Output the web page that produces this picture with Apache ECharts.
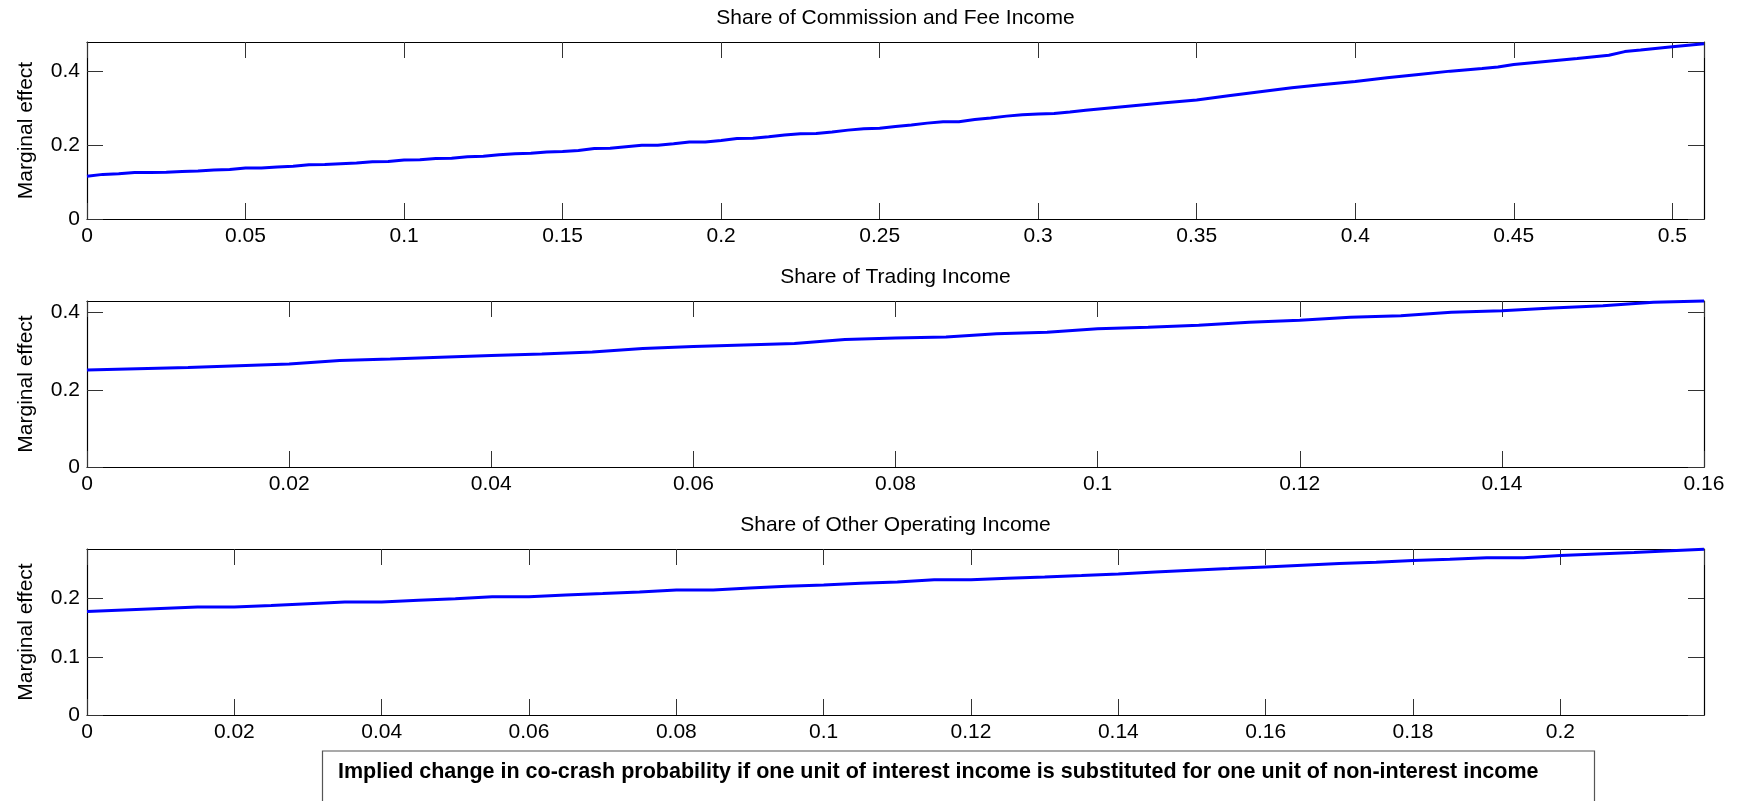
<!DOCTYPE html>
<html>
<head>
<meta charset="utf-8">
<script src="https://cdn.jsdelivr.net/npm/echarts@6/dist/echarts.min.js"></script>
<style>
html,body{margin:0;padding:0;background:#fff;}
#chart{width:1739px;height:801px;}
</style>
</head>
<body>
<div id="chart"></div>
<script>
// ---- Data ----
var titles = ['Share of Commission and Fee Income', 'Share of Trading Income', 'Share of Other Operating Income'];
var yName = 'Marginal effect';
var noteText = 'Implied change in co-crash probability if one unit of interest income is substituted for one unit of non-interest income';

var commX = [0,0.005,0.01,0.015,0.02,0.025,0.03,0.035,0.04,0.045,0.05,0.055,0.06,0.065,0.07,0.075,0.08,0.085,0.09,0.095,
  0.1,0.105,0.11,0.115,0.12,0.125,0.13,0.135,0.14,0.145,0.15,0.155,0.16,0.165,0.17,0.175,0.18,0.185,0.19,0.195,
  0.2,0.205,0.21,0.215,0.22,0.225,0.23,0.235,0.24,0.245,0.25,0.255,0.26,0.265,0.27,0.275,0.28,0.285,0.29,0.295,
  0.3,0.305,0.31,0.315,0.32,0.325,0.33,0.335,0.34,0.35,0.36,0.37,0.38,0.39,0.4,0.41,0.42,0.43,0.44,0.445,
  0.45,0.46,0.47,0.48,0.485,0.49,0.5,0.51];
var commY = [0.116,0.121,0.123,0.126,0.126,0.127,0.129,0.130,0.133,0.134,0.138,0.138,0.141,0.143,0.147,0.148,0.150,0.152,0.155,0.156,
  0.160,0.161,0.164,0.165,0.169,0.170,0.174,0.177,0.178,0.182,0.183,0.186,0.191,0.192,0.196,0.200,0.200,0.204,0.209,0.209,
  0.213,0.218,0.219,0.223,0.228,0.231,0.232,0.236,0.241,0.245,0.246,0.251,0.255,0.260,0.264,0.264,0.270,0.274,0.279,0.283,
  0.285,0.286,0.290,0.295,0.299,0.303,0.307,0.311,0.315,0.323,0.334,0.345,0.356,0.365,0.373,0.383,0.392,0.401,0.408,0.412,
  0.419,0.427,0.435,0.444,0.454,0.458,0.467,0.475];

var tradX = [0,0.01,0.02,0.025,0.03,0.04,0.045,0.05,0.055,0.06,0.065,0.07,0.075,0.08,0.085,0.09,0.095,
  0.1,0.105,0.11,0.115,0.12,0.125,0.13,0.135,0.14,0.145,0.15,0.155,0.16];
var tradY = [0.251,0.258,0.267,0.276,0.280,0.289,0.293,0.298,0.307,0.312,0.316,0.320,0.330,0.334,0.337,0.345,0.349,
  0.358,0.362,0.367,0.375,0.380,0.388,0.392,0.401,0.405,0.412,0.418,0.427,0.430];

var othX = [0,0.01,0.015,0.02,0.025,0.03,0.035,0.04,0.045,0.05,0.055,0.06,0.065,0.07,0.075,0.08,0.085,0.09,0.095,
  0.1,0.105,0.11,0.115,0.12,0.125,0.13,0.135,0.14,0.145,0.15,0.155,0.16,0.165,0.17,0.175,0.18,0.185,0.19,0.195,
  0.2,0.205,0.21,0.215,0.2195];
var othY = [0.1776,0.183,0.1856,0.1856,0.188,0.191,0.194,0.194,0.197,0.1995,0.203,0.203,0.206,0.2085,0.2113,0.2148,0.2148,0.218,0.221,
  0.223,0.226,0.2285,0.232,0.232,0.2348,0.237,0.2394,0.242,0.2457,0.2486,0.2514,0.2543,0.2572,0.260,0.2623,0.2652,0.2675,0.270,0.270,
  0.2738,0.2766,0.279,0.2818,0.2845];

// axis ranges / tick steps
var xMax = [0.51, 0.16, 0.2195];
var xStep = [0.05, 0.02, 0.02];
var xShowMax = [false, true, false];
var yMax = [0.48, 0.43, 0.285];
var yStep = [0.2, 0.2, 0.1];

// ---- Layout ----
var FONT = '"Liberation Sans", Arial, Helvetica, sans-serif';
var FS = 21;
var gridTop = [42, 301, 549];
var gridH = [177, 166, 166];
var GL = 87, GR = 35;

function fmt(v){ return String(Math.round(v*10000)/10000); }

function pairs(xs, ys){ var out=[]; for (var i=0;i<xs.length;i++) out.push([xs[i], ys[i]]); return out; }
var seriesData = [pairs(commX, commY), pairs(tradX, tradY), pairs(othX, othY)];

var grids=[], xAxes=[], yAxes=[], series=[], graphics=[];
for (var p=0;p<3;p++){
  grids.push({left:GL, right:GR, top:gridTop[p], height:gridH[p], show:false});
  var tick = {show:true, inside:true, length:16, lineStyle:{color:'#333', width:1}};
  var line = {show:true, onZero:false, lineStyle:{color:'#000', width:1.2}};
  // bottom x
  xAxes.push({type:'value', gridIndex:p, position:'bottom', min:0, max:xMax[p], interval:xStep[p],
    axisLine:line, axisTick:tick, splitLine:{show:false},
    axisLabel:{show:true, showMaxLabel:xShowMax[p], showMinLabel:true, margin:7, color:'#000', fontSize:FS, fontFamily:FONT, formatter:fmt}});
  // top x
  xAxes.push({type:'value', gridIndex:p, position:'top', min:0, max:xMax[p], interval:xStep[p],
    axisLine:line, axisTick:tick, splitLine:{show:false}, axisLabel:{show:false}});
  // left y
  yAxes.push({type:'value', gridIndex:p, position:'left', min:0, max:yMax[p], interval:yStep[p],
    name:yName, nameLocation:'middle', nameGap:50, nameRotate:90,
    nameTextStyle:{color:'#000', fontSize:FS, fontFamily:FONT},
    axisLine:line, axisTick:tick, splitLine:{show:false},
    axisLabel:{show:true, showMaxLabel:false, margin:7, color:'#000', fontSize:FS, fontFamily:FONT, formatter:fmt}});
  // right y
  yAxes.push({type:'value', gridIndex:p, position:'right', min:0, max:yMax[p], interval:yStep[p],
    axisLine:line, axisTick:tick, splitLine:{show:false}, axisLabel:{show:false}});
  series.push({type:'line', xAxisIndex:2*p, yAxisIndex:2*p, data:seriesData[p], showSymbol:false, symbol:'none',
    lineStyle:{color:'#0000FF', width:3}, itemStyle:{color:'#0000FF'}, silent:true, animation:false, clip:false});
  graphics.push({type:'text', x:GL + (1739-GL-GR)/2, y:gridTop[p]-24,
    style:{text:titles[p], fill:'#000', font:FS+'px '+FONT, textAlign:'center', textVerticalAlign:'middle'}});
}
graphics.push({type:'rect', shape:{x:322.5, y:751, width:1272, height:80},
  style:{fill:'#fff', stroke:'#555', lineWidth:1.2}, z:10});
graphics.push({type:'text', x:338, y:772, z:11,
  style:{text:noteText, fill:'#000', font:'bold 21.5px '+FONT, textAlign:'left', textVerticalAlign:'middle'}});

var chart = echarts.init(document.getElementById('chart'), null, {renderer:'canvas'});
chart.setOption({
  animation:false,
  backgroundColor:'#fff',
  grid:grids, xAxis:xAxes, yAxis:yAxes, series:series, graphic:graphics
});
</script>
</body>
</html>
